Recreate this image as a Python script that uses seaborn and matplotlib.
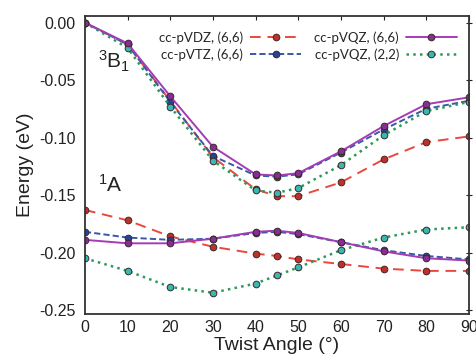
import matplotlib
matplotlib.use("Agg")
import matplotlib.pyplot as plt
import seaborn as sns
import pandas as pd
from matplotlib.lines import Line2D

angles = [0, 10, 20, 30, 40, 45, 50, 60, 70, 80, 90]

# 3B1 state
b1_vdz66 = [0.000, -0.019, -0.068, -0.117, -0.145, -0.151, -0.151, -0.139, -0.119, -0.104, -0.099]
b1_vtz66 = [0.000, -0.019, -0.069, -0.116, -0.133, -0.134, -0.132, -0.113, -0.093, -0.075, -0.068]
b1_vqz66 = [0.000, -0.018, -0.064, -0.108, -0.132, -0.133, -0.131, -0.112, -0.090, -0.071, -0.065]
b1_vqz22 = [0.000, -0.022, -0.073, -0.120, -0.146, -0.148, -0.144, -0.124, -0.098, -0.077, -0.069]

# 1A state
a_vdz66 = [-0.163, -0.172, -0.186, -0.195, -0.201, -0.203, -0.206, -0.210, -0.214, -0.216, -0.216]
a_vtz66 = [-0.182, -0.187, -0.189, -0.188, -0.183, -0.182, -0.184, -0.191, -0.198, -0.203, -0.206]
a_vqz66 = [-0.189, -0.192, -0.192, -0.188, -0.182, -0.181, -0.183, -0.191, -0.199, -0.205, -0.207]
a_vqz22 = [-0.205, -0.216, -0.230, -0.235, -0.227, -0.220, -0.213, -0.198, -0.187, -0.180, -0.178]

labels = ["cc-pVDZ, (6,6)", "cc-pVTZ, (6,6)", "cc-pVQZ, (6,6)", "cc-pVQZ, (2,2)"]
xticks = [0, 10, 20, 30, 40, 50, 60, 70, 80, 90]
yticks = [0.00, -0.05, -0.10, -0.15, -0.20, -0.25]

sns.set_style("white")
plt.rcParams["font.family"] = ["Liberation Sans", "DejaVu Sans"]
plt.rcParams["axes.unicode_minus"] = False
plt.rcParams["mathtext.fontset"] = "custom"
plt.rcParams["mathtext.rm"] = "Liberation Sans"
plt.rcParams["mathtext.it"] = "Liberation Sans"

styles = {
    labels[0]: dict(color="#e8483e", mfc="#c0302a", dashes=(5.5, 3.5), lw=1.4),
    labels[1]: dict(color="#3a58a8", mfc="#24449a", dashes=(3.2, 1.6), lw=1.4),
    labels[2]: dict(color="#a43cb4", mfc="#8a2c98", dashes=None, lw=1.4),
    labels[3]: dict(color="#2a9a5a", mfc="#38b8b0", dashes=(1, 1.7), lw=1.8),
}
MS = 4.8
MEC = "#3a2a2a"

rows = []
for lab, b, a in zip(labels, [b1_vdz66, b1_vtz66, b1_vqz66, b1_vqz22],
                     [a_vdz66, a_vtz66, a_vqz66, a_vqz22]):
    for x, y in zip(angles, b):
        rows.append(dict(angle=x, energy=y, series=lab, state="3B1"))
    for x, y in zip(angles, a):
        rows.append(dict(angle=x, energy=y, series=lab, state="1A"))
df = pd.DataFrame(rows)

fig = plt.figure(figsize=(4.77, 3.63), dpi=100)
ax = fig.add_axes([0.178, 0.135, 0.805, 0.821])

order = [labels[0], labels[1], labels[3], labels[2]]
handles = {}
for lab in order:
    st = styles[lab]
    for state in ["3B1", "1A"]:
        sub = df[(df.series == lab) & (df.state == state)]
        sns.lineplot(data=sub, x="angle", y="energy", ax=ax, color=st["color"],
                     lw=st["lw"], marker="o", markersize=MS,
                     markerfacecolor=st["mfc"], markeredgecolor=MEC,
                     markeredgewidth=0.7, legend=False)
        line = ax.lines[-1]
        if st["dashes"] is not None:
            line.set_dashes(st["dashes"])
    handles[lab] = Line2D([], [], color=st["color"], lw=st["lw"], marker="o",
                          markersize=MS, markerfacecolor=st["mfc"],
                          markeredgecolor=MEC, markeredgewidth=0.7,
                          dashes=st["dashes"] if st["dashes"] else (None, None))

ax.set_xlim(0, 90)
ax.set_ylim(-0.2535, 0.0058)
ax.set_xticks(xticks)
ax.set_yticks(yticks)
ax.set_xticklabels([str(t) for t in xticks])
ax.set_yticklabels(["%.2f" % t for t in yticks])
ax.tick_params(axis="both", labelsize=11.5, colors="#222222", direction="in",
               length=3, width=0.8, top=True, right=True, pad=4)
ax.tick_params(axis="y", direction="inout", length=5)
for s in ax.spines.values():
    s.set_color("#333333")
    s.set_linewidth(1.3)

ax.set_xlabel("Twist Angle (°)", fontsize=14, color="#222222", labelpad=2)
ax.set_ylabel("Energy (eV)", fontsize=14, color="#222222", labelpad=4)

ax.text(3, -0.034, r"$^3\mathrm{B}_1$", fontsize=15, color="#222222",
        ha="left", va="center")
ax.text(3, -0.141, r"$^1\mathrm{A}$", fontsize=15, color="#222222",
        ha="left", va="center")

leg_handles = [handles[labels[0]], handles[labels[1]], handles[labels[2]], handles[labels[3]]]
ax.legend(leg_handles, labels, ncol=2, loc="upper right",
          bbox_to_anchor=(0.99, 0.975), frameon=False, markerfirst=False,
          handlelength=3.9, columnspacing=1.0, handletextpad=0.5,
          labelspacing=0.35, borderaxespad=0.2,
          prop={"family": ["Lato", "DejaVu Sans"], "size": 9.5})

fig.savefig("out.png", dpi=100)
